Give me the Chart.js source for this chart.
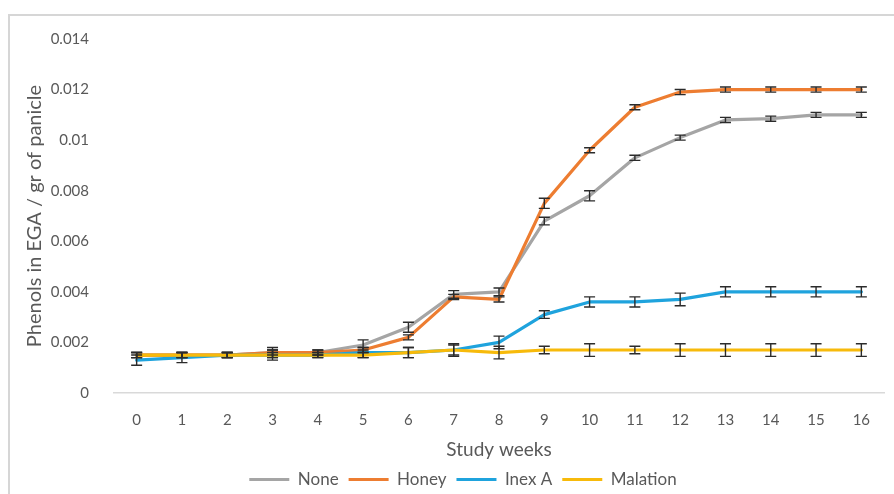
<!DOCTYPE html>
<html>
<head>
<meta charset="utf-8">
<script src="https://cdn.jsdelivr.net/npm/chart.js@4.4.1/dist/chart.umd.min.js"></script>
<style>
  html, body { margin: 0; padding: 0; background: #ffffff; }
  #wrap { position: relative; width: 894px; height: 494px; }
  canvas { display: block; }
</style>
</head>
<body>
<div id="wrap"><canvas id="chart" width="894" height="494"></canvas></div>
<script>
// Study weeks on the x axis
const weeks = ['0','1','2','3','4','5','6','7','8','9','10','11','12','13','14','15','16'];

// Phenols in EGA per gram of panicle, by treatment
const noneValues     = [0.0015, 0.0015, 0.0015, 0.0016, 0.0016, 0.0019, 0.0026, 0.0039, 0.0040, 0.0068, 0.0078, 0.0093, 0.0101, 0.0108, 0.01085, 0.0110, 0.0110];
const honeyValues    = [0.0015, 0.0015, 0.0015, 0.0016, 0.0016, 0.0017, 0.0022, 0.0038, 0.0037, 0.0075, 0.0096, 0.0113, 0.0119, 0.0120, 0.0120, 0.0120, 0.0120];
const inexValues     = [0.0013, 0.0014, 0.0015, 0.0015, 0.0015, 0.0016, 0.0016, 0.0017, 0.0020, 0.0031, 0.0036, 0.0036, 0.0037, 0.0040, 0.0040, 0.0040, 0.0040];
const malationValues = [0.0015, 0.0015, 0.0015, 0.0015, 0.0015, 0.0015, 0.0016, 0.0017, 0.0016, 0.0017, 0.0017, 0.0017, 0.0017, 0.0017, 0.0017, 0.0017, 0.0017];

// Standard error of each point (+/-)
const noneErrors     = [0.0001, 0.0001, 0.0001, 0.0002, 0.0001, 0.0002, 0.0002, 0.00015, 0.00015, 0.00015, 0.0002, 0.0001, 0.0001, 0.0001, 0.0001, 0.0001, 0.0001];
const honeyErrors    = [0.0001, 0.0001, 0.0001, 0.0001, 0.0001, 0.0001, 0.0001, 0.0001, 0.0001, 0.0002, 0.0001, 0.0001, 0.0001, 0.0001, 0.0001, 0.0001, 0.0001];
const inexErrors     = [0.0002, 0.0002, 0.0001, 0.0002, 0.0001, 0.0002, 0.0002, 0.0002, 0.00025, 0.00015, 0.0002, 0.0002, 0.00025, 0.0002, 0.0002, 0.0002, 0.0002];
const malationErrors = [0.0001, 0.0001, 0.0001, 0.0001, 0.0001, 0.0001, 0.0002, 0.00025, 0.00025, 0.00015, 0.00025, 0.00015, 0.00025, 0.00025, 0.00025, 0.00025, 0.00025];

// Y axis tick values
const yTicks = [0, 0.002, 0.004, 0.006, 0.008, 0.01, 0.012, 0.014];

const seriesNames  = ['None', 'Honey', 'Inex A', 'Malation'];
const seriesColors = ['#A5A5A5', '#ED7D31', '#1FA3DD', '#F7BA0B'];

const textColor = '#595959';
const fontFamily = 'Lato, "Open Sans", sans-serif';

const seriesData   = [noneValues, honeyValues, inexValues, malationValues];
const seriesErrors = [noneErrors, honeyErrors, inexErrors, malationErrors];

// Light frame around the figure (left and top edges)
const framePlugin = {
  id: 'frame',
  beforeDraw(chart) {
    const ctx = chart.ctx;
    ctx.save();
    ctx.strokeStyle = '#d6d6d6';
    ctx.lineWidth = 2;
    ctx.beginPath();
    ctx.moveTo(9, chart.height);
    ctx.lineTo(9, 15);
    ctx.lineTo(chart.width, 15);
    ctx.stroke();
    ctx.restore();
  }
};

// Vertical error bars with caps, positioned through the chart scales
const errorBarPlugin = {
  id: 'errorBars',
  afterDatasetsDraw(chart) {
    const ctx = chart.ctx;
    const yScale = chart.scales.y;
    ctx.save();
    ctx.strokeStyle = '#2b2b2b';
    ctx.lineWidth = 1.4;
    chart.data.datasets.forEach((ds, di) => {
      const meta = chart.getDatasetMeta(di);
      const errs = seriesErrors[di];
      meta.data.forEach((pt, i) => {
        const v = ds.data[i];
        const e = errs[i];
        const yTop = yScale.getPixelForValue(v + e);
        const yBot = yScale.getPixelForValue(v - e);
        const x = pt.x;
        ctx.beginPath();
        ctx.moveTo(x, yTop); ctx.lineTo(x, yBot);
        ctx.moveTo(x - 5.5, yTop); ctx.lineTo(x + 5.5, yTop);
        ctx.moveTo(x - 5.5, yBot); ctx.lineTo(x + 5.5, yBot);
        ctx.stroke();
      });
    });
    ctx.restore();
  }
};

const datasets = seriesNames.map((name, i) => ({
  label: name,
  data: seriesData[i],
  borderColor: seriesColors[i],
  backgroundColor: seriesColors[i],
  borderWidth: 3.2,
  pointRadius: 0,
  pointHoverRadius: 0,
  tension: 0,
  fill: false,
  borderJoinStyle: 'round',
  borderCapStyle: 'round',
  order: seriesNames.length - i
}));

new Chart(document.getElementById('chart'), {
  type: 'line',
  data: { labels: weeks, datasets },
  plugins: [framePlugin, errorBarPlugin],
  options: {
    responsive: false,
    animation: false,
    devicePixelRatio: 1,
    layout: { padding: { left: 42, right: 10, top: 39, bottom: -4 } },
    scales: {
      x: {
        type: 'category',
        offset: true,
        grid: { display: false, drawTicks: false },
        border: { display: true, color: '#d9d9d9', width: 1.5 },
        ticks: { color: textColor, font: { family: fontFamily, size: 15 }, padding: 18, maxRotation: 0, autoSkip: false },
        title: { display: true, text: 'Study weeks', color: textColor, font: { family: fontFamily, size: 19 }, padding: { top: 4, bottom: 0 } },
        afterFit(scale) { scale.height = 68; }
      },
      y: {
        min: 0,
        max: 0.014,
        grid: { display: false, drawTicks: false },
        border: { display: false },
        afterBuildTicks(scale) { scale.ticks = yTicks.map(v => ({ value: v })); },
        ticks: {
          color: textColor,
          font: { family: fontFamily, size: 15 },
          padding: 25,
          callback: (v) => String(parseFloat(Number(v).toFixed(3)))
        },
        title: {
          display: true,
          text: 'Phenols in EGA / gr of panicle',
          color: textColor,
          font: { family: fontFamily, size: 20 },
          padding: { top: -19, bottom: 0 }
        },
        afterFit(scale) { scale.width = 72; }
      }
    },
    plugins: {
      tooltip: { enabled: false },
      legend: {
        position: 'bottom',
        labels: {
          color: textColor,
          font: { family: fontFamily, size: 17 },
          boxWidth: 40,
          boxHeight: 3,
          padding: 10,
          sort: (a, b) => a.datasetIndex - b.datasetIndex,
          generateLabels(chart) {
            const items = Chart.defaults.plugins.legend.labels.generateLabels(chart);
            items.forEach(it => { it.lineWidth = 0; it.strokeStyle = it.fillStyle; });
            return items;
          }
        }
      }
    }
  }
});
</script>
</body>
</html>
